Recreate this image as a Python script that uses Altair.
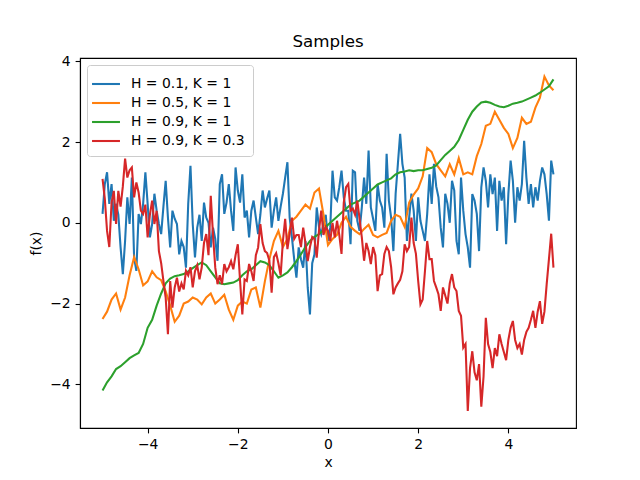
import numpy as np
import pandas as pd
import altair as alt

labels = ["H = 0.1, K = 1", "H = 0.5, K = 1", "H = 0.9, K = 1", "H = 0.9, K = 0.3"]
colors = ["#1f77b4", "#ff7f0e", "#2ca02c", "#d62728"]

# H = 0.1, K = 1  (201 samples, x from -5 to 5)
blue = [
    0.22, 0.96, 1.25, 0.47, 0.96, 0.05, 0.47, 0.2, -0.61, -1.27,
    -0.45, 0.63, -0.03, 1.12, -0.86, -1.19, 0.22, -0.03, 0.47, 1.25,
    0.47, -0.36, -0.03, 0.72, 0.3, -0.03, -0.28, 0.4, 1.04, 0.13,
    -0.61, 0.3, 0.1, -0.03, -0.78, -0.45, -0.6, -1.11, 0.47, 1.41,
    -0.03, -0.86, -0.12, 0.2, -0.45, 0.5, 0.13, 0.0, -0.61, -0.12,
    -0.4, -0.94, 0.96, 1.2, 0.22, 0.5, 0.96, 0.3, -0.2, 1.37,
    0.8, 0.5, 1.2, 0.13, 0.3, -0.36, 0.3, 0.55, 0.13, -0.28,
    0.2, 0.8, 0.38, 0.6, 0.8, -0.12, 0.3, 0.63, 0.05, 0.4,
    0.72, 1.12, 1.5, 0.13, -0.36, -0.9, -1.36, -0.61, -0.9, -1.11,
    -0.45, -1.6, -2.27, -1.0, -0.78, 0.38, -0.1, -0.28, -0.03, 0.2,
    -0.45, -0.12, 1.29, 0.63, 0.55, 0.88, 1.29, 0.63, 0.3, 0.3,
    -0.53, 1.29, 1.25, 0.05, -0.2, 0.38, 1.12, 0.47, 1.79, 0.38,
    0.1, -0.2, 0.96, 0.55, 0.38, -0.12, 1.71, 0.55, 0.13, -0.7,
    0.72, 1.46, 2.2, 1.46, 1.12, -0.45, 0.13, 0.72, 0.3, -0.45,
    0.63, 0.05, -0.2, -0.45, 0.22, 1.2, 0.47, 1.46, 0.9, 0.63,
    -0.12, -0.61, 0.72, 0.47, 0.0, 1.04, 0.8, -0.45, -0.78, 1.12,
    0.3, -0.28, -0.61, -1.11, 0.71, 0.55, 0.22, -0.7, 0.88, 1.37,
    1.04, 0.38, 1.2, 0.71, 1.12, -0.2, 1.04, 0.55, 0.88, -0.53,
    0.71, 1.54, 1.04, 0.0, 0.88, 0.55, 0.96, 2.03, 1.12, 0.47,
    0.96, 0.38, 0.88, 0.55, 1.04, 1.37, 1.2, 0.71, 0.05, 1.54,
    1.2,
]

# H = 0.5, K = 1  (101 samples)
orange = [
    -2.38, -2.2, -1.9, -1.75, -2.15, -1.85, -1.3, -0.85, -1.15, -1.55,
    -1.45, -1.2, -1.35, -1.42, -1.7, -2.05, -2.45, -2.3, -2.0, -1.95,
    -1.85, -1.9, -2.02, -1.85, -1.75, -2.0, -1.9, -1.78, -2.15, -2.4,
    -2.05, -1.95, -2.0, -1.65, -1.6, -2.1, -1.45, -0.9, -0.45, -0.2,
    -0.6, -0.4, 0.05, 0.15, 0.3, 0.45, 0.35, 0.75, 0.85, 0.2,
    -0.55, -0.4, -0.3, 0.0, 0.15, -0.1, -0.2, -0.28, -0.15, -0.05,
    -0.3, -0.36, -0.3, -0.25, 0.05, 0.2, 0.15, -0.1, 0.5, 0.7,
    0.85, 1.15, 1.85, 1.75, 1.45, 1.3, 1.15, 1.45, 1.2, 1.6,
    1.2, 1.25, 1.2, 1.65, 1.95, 2.4, 2.45, 2.75, 2.55, 2.35,
    2.2, 1.85, 2.1, 2.6, 2.45, 2.5, 2.85, 3.1, 3.62, 3.4,
    3.28,
]

# H = 0.9, K = 1  (101 samples)
green = [
    -4.15, -3.95, -3.8, -3.62, -3.55, -3.45, -3.35, -3.28, -3.22, -3.0,
    -2.6, -2.4, -2.05, -1.75, -1.5, -1.38, -1.32, -1.3, -1.27, -1.2,
    -1.12, -1.05, -0.98, -1.05, -1.2, -1.35, -1.5, -1.52, -1.5, -1.48,
    -1.42, -1.3, -1.2, -1.15, -1.05, -0.95, -0.98, -1.05, -1.2, -1.36,
    -1.3, -1.23, -1.1, -0.95, -0.78, -0.6, -0.45, -0.35, -0.28, -0.18,
    -0.05, 0.05, 0.15, 0.25, 0.35, 0.45, 0.5, 0.55, 0.65, 0.75,
    0.85, 0.95, 1.0, 1.05, 1.1, 1.2, 1.25, 1.27, 1.3, 1.28,
    1.3, 1.3, 1.33, 1.36, 1.42, 1.55, 1.68, 1.78, 1.88, 2.05,
    2.3, 2.55, 2.75, 2.88, 2.98, 3.0, 2.97, 2.92, 2.88, 2.86,
    2.9, 2.95, 2.97, 3.0, 3.05, 3.1, 3.15, 3.22, 3.3, 3.38,
    3.55,
]

# H = 0.9, K = 0.3  (201 samples)
red = [
    1.09, 0.6, -0.2, -0.6, 0.5, 0.79, -0.03, 0.79, 0.4, 0.9,
    1.59, 1.12, 1.3, 1.37, 0.63, 1.0, 0.75, 0.3, 0.22, 0.45,
    -0.36, 0.2, 0.55, -0.03, 0.3, -0.7, -1.0, -1.44, -1.85, -2.76,
    -1.44, -2.1, -1.6, -1.36, -1.7, -1.5, -1.65, -1.19, -1.3, -1.1,
    -1.6, -1.2, -1.05, -1.4, -1.1, -0.5, -0.28, -0.8, 0.67, -0.3,
    -1.11, -1.52, -1.3, -1.52, -1.02, -1.2, -1.1, -0.95, -1.15, -0.8,
    -0.53, -1.44, -2.27, -1.4, -1.44, -1.02, -1.2, -1.44, -0.8, -0.61,
    -0.03, -0.5, -0.7, -0.75, -0.94, -1.73, -0.85, -0.75, -1.0, -1.3,
    -0.45, 0.1, -0.65, -0.28, 0.13, -0.4, -0.3, -0.3, -0.6, -0.12,
    -0.5, -0.95, -0.6, -0.35, -0.4, -0.86, -0.2, 0.3, -0.3, -0.1,
    -0.2, -0.45, 0.0, -0.36, 0.05, -0.3, -0.77, 0.5, 0.88, 0.96,
    0.3, 0.35, 0.2, 0.55, 0.1, -0.36, -0.94, -0.5, -0.7, -1.02,
    -0.6, -0.8, -1.69, -1.3, -1.27, -0.77, -0.6, -0.7, -1.1, -1.77,
    -1.6, -1.5, -1.41, -1.2, -0.53, -0.7, -0.6, 0.13, -0.5, -0.77,
    -1.44, -2.02, -1.9, -1.2, -0.45, -0.9, -0.9, -1.44, -1.6, -1.77,
    -2.18, -1.6, -1.8, -2.0, -1.5, -1.27, -1.6, -1.69, -2.18, -2.3,
    -3.09, -3.0, -4.66, -3.6, -3.18, -3.7, -3.9, -3.5, -4.55, -3.8,
    -2.35, -3.0, -3.2, -3.6, -3.1, -3.3, -2.76, -3.0, -3.2, -3.4,
    -2.9, -2.6, -2.43, -2.9, -3.1, -3.0, -3.26, -2.9, -2.7, -2.6,
    -2.4, -2.18, -2.6, -2.2, -1.94, -2.5, -2.2, -1.52, -0.9, -0.27,
    -1.11,
]

x_ticks = [-4, -2, 0, 2, 4]
y_ticks = [-4, -2, 0, 2, 4]

frames = []
for lab, vals in zip(labels, [blue, orange, green, red]):
    xs = np.linspace(-5, 5, len(vals))
    frames.append(pd.DataFrame({"x": xs, "y": vals, "series": lab, "idx": np.arange(len(vals))}))
df = pd.concat(frames, ignore_index=True)

FONT = "DejaVu Sans"

color = alt.Color(
    "series:N",
    scale=alt.Scale(domain=labels, range=colors),
    legend=alt.Legend(
        title=None,
        orient="top-left",
        offset=7,
        padding=8,
        symbolType="M-1.47,0H1.47",
        symbolStrokeWidth=2.08,
        symbolSize=361,
        labelFont=FONT,
        labelFontSize=13.9,
        labelColor="black",
        labelLimit=300,
        rowPadding=1,
        labelOffset=14,
        strokeColor="#cccccc",
        fillColor="rgba(255,255,255,0.8)",
        cornerRadius=3,
    ),
)

xenc = alt.X(
    "x:Q",
    scale=alt.Scale(domain=[-5.5, 5.5], nice=False, zero=False),
    axis=alt.Axis(values=x_ticks, title="x", grid=False, titlePadding=4),
)
yenc = alt.Y(
    "y:Q",
    scale=alt.Scale(domain=[-5.08, 4.08], nice=False, zero=False),
    axis=alt.Axis(values=y_ticks, title="f(x)", grid=False, titlePadding=6),
)

layers = []
for lab in labels:
    layers.append(
        alt.Chart(df)
        .transform_filter(alt.datum.series == lab)
        .mark_line(strokeWidth=2.08, clip=True)
        .encode(x=xenc, y=yenc, color=color, order="idx:Q")
    )

chart = (
    alt.layer(*layers)
    .properties(
        width=496,
        height=370,
        title=alt.TitleParams("Samples", font=FONT, fontSize=16.7, fontWeight="normal", color="black", offset=4),
        padding={"left": 72, "top": 50, "right": 56, "bottom": 44},
        autosize=alt.AutoSizeParams(type="none"),
    )
    .configure_axis(
        labelFont=FONT,
        labelFontSize=13.9,
        labelColor="black",
        titleFont=FONT,
        titleFontSize=13.9,
        titleFontWeight="normal",
        titleColor="black",
        domainColor="black",
        domainWidth=1.1,
        tickColor="black",
        tickWidth=1.1,
        tickSize=4.9,
        labelPadding=4.9,
    )
    .configure_view(stroke="black", strokeWidth=1.1)
)

chart.save("out.html", embed_options={"renderer": "svg", "actions": False})
